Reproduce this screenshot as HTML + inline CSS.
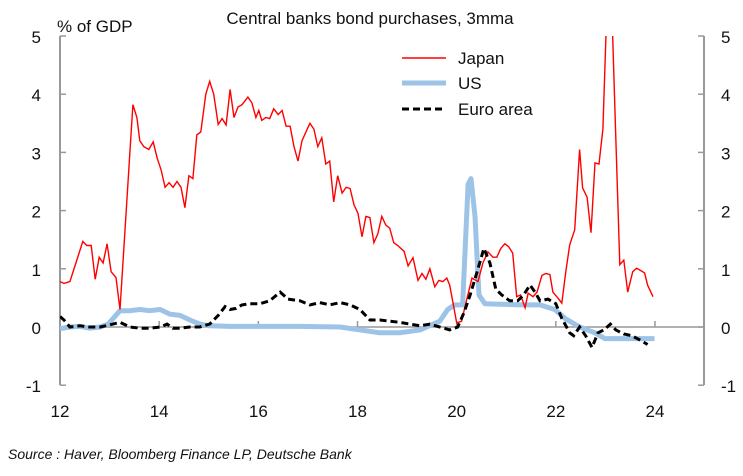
<!DOCTYPE html>
<html><head><meta charset="utf-8"><style>
body{margin:0;background:#fff;font-family:"Liberation Sans",Arial,sans-serif;}
svg text{font-family:"Liberation Sans",Arial,sans-serif;fill:#111;}
</style></head><body>
<svg id="chart" width="743" height="471" xmlns="http://www.w3.org/2000/svg">
<text x="370" y="24" font-size="17" text-anchor="middle">Central banks bond purchases, 3mma</text>
<text x="57" y="32" font-size="17">% of GDP</text>
<text x="8" y="459" font-size="14" font-style="italic" fill="#222">Source : Haver, Bloomberg Finance LP, Deutsche Bank</text>
<g id="axes"></g>
<defs><clipPath id="plotclip"><rect x="60" y="36" width="644" height="349"/></clipPath></defs>
<g id="series" clip-path="url(#plotclip)"></g>
<g>
<line x1="402" y1="58" x2="446" y2="58" stroke="#ff0000" stroke-width="1.5"/>
<text x="458" y="64" font-size="17">Japan</text>
<line x1="402" y1="83" x2="446" y2="83" stroke="#9dc3e6" stroke-width="5"/>
<text x="458" y="89" font-size="17">US</text>
<line x1="402" y1="109" x2="446" y2="109" stroke="#000" stroke-width="3" stroke-dasharray="7,4"/>
<text x="458" y="115" font-size="17">Euro area</text>
</g>
</svg>
<script>
const yTicks=[5,4,3,2,1,0,-1];
const xTicks=[12,14,16,18,20,22,24];
const japanYears=[12.00,12.08,12.20,12.32,12.46,12.54,12.63,12.71,12.79,12.87,12.95,13.03,13.13,13.21,13.47,13.55,13.61,13.69,13.79,13.88,13.96,14.04,14.12,14.20,14.28,14.36,14.44,14.52,14.60,14.68,14.76,14.84,14.94,15.02,15.10,15.19,15.27,15.35,15.43,15.51,15.59,15.67,15.79,15.87,15.95,16.01,16.07,16.15,16.23,16.31,16.40,16.48,16.56,16.64,16.72,16.80,16.88,16.96,17.04,17.12,17.20,17.28,17.36,17.44,17.52,17.60,17.69,17.77,17.85,17.93,18.01,18.09,18.17,18.25,18.33,18.41,18.49,18.57,18.65,18.73,18.81,18.94,19.02,19.12,19.22,19.30,19.38,19.46,19.56,19.64,19.72,19.80,19.86,19.94,20.00,20.10,20.21,20.31,20.43,20.53,20.63,20.73,20.81,20.89,20.97,21.05,21.13,21.21,21.29,21.38,21.44,21.54,21.62,21.72,21.80,21.88,21.94,22.04,22.12,22.20,22.28,22.38,22.48,22.54,22.63,22.71,22.79,22.87,22.95,23.03,23.11,23.19,23.29,23.37,23.45,23.55,23.63,23.71,23.79,23.85,23.96];
const japanVals=[0.78,0.75,0.78,1.1,1.47,1.4,1.4,0.82,1.2,1.1,1.43,0.95,0.85,0.3,3.82,3.6,3.2,3.1,3.05,3.18,2.9,2.7,2.4,2.48,2.4,2.5,2.4,2.05,2.6,2.55,3.3,3.35,4.0,4.22,4.0,3.48,3.58,3.47,4.08,3.6,3.78,3.82,3.95,3.85,3.6,3.72,3.55,3.6,3.58,3.75,3.65,3.72,3.45,3.45,3.1,2.85,3.2,3.35,3.5,3.4,3.1,3.25,2.8,2.85,2.15,2.6,2.3,2.4,2.38,2.1,1.95,1.55,1.9,1.88,1.45,1.6,1.9,1.75,1.7,1.45,1.4,1.3,1.05,1.19,0.8,0.92,0.82,1.0,0.69,0.8,0.78,0.84,0.72,0.35,0.07,0.1,0.5,0.84,0.78,1.1,1.29,1.2,1.2,1.35,1.43,1.38,1.27,0.52,0.55,0.33,0.58,0.52,0.6,0.89,0.92,0.9,0.6,0.5,0.41,0.95,1.41,1.67,3.05,2.39,2.23,1.62,2.82,2.8,3.4,5.5,6.0,3.8,1.07,1.15,0.6,0.95,1.01,0.97,0.93,0.72,0.52];
const usYears=[12.00,12.20,12.40,12.60,12.81,12.97,13.21,13.41,13.61,13.81,14.02,14.22,14.42,14.62,14.82,15.02,15.43,16.84,17.65,18.05,18.45,18.85,19.26,19.66,19.82,19.96,20.12,20.23,20.29,20.37,20.45,20.57,21.27,21.68,21.98,22.18,22.48,22.79,22.99,23.29,23.69,23.99];
const usVals=[-0.03,0,0.01,-0.02,0,0.05,0.28,0.28,0.3,0.28,0.3,0.22,0.2,0.12,0.05,0.02,0.01,0.01,0,-0.05,-0.1,-0.1,-0.05,0.1,0.3,0.38,0.38,2.45,2.55,1.9,0.55,0.4,0.38,0.38,0.3,0.15,0,-0.1,-0.2,-0.2,-0.2,-0.2];
const euroYears=[12.00,12.08,12.20,12.40,12.60,12.81,12.97,13.21,13.41,13.61,13.81,14.02,14.16,14.28,14.42,14.62,14.82,15.02,15.19,15.33,15.43,15.55,15.67,15.83,16.03,16.23,16.44,16.60,16.84,17.04,17.24,17.44,17.65,17.85,18.05,18.25,18.45,18.65,18.85,19.06,19.26,19.46,19.66,19.86,20.02,20.15,20.27,20.43,20.55,20.67,20.79,20.91,21.07,21.23,21.35,21.48,21.58,21.68,21.84,22.00,22.12,22.28,22.36,22.48,22.60,22.73,22.85,22.97,23.10,23.21,23.37,23.53,23.69,23.85];
const euroVals=[0.18,0.12,0,0.02,0,0,0.03,0.08,0,-0.02,-0.02,0,0.05,-0.02,-0.02,0,0,0.05,0.2,0.35,0.3,0.32,0.38,0.4,0.4,0.45,0.6,0.48,0.45,0.38,0.42,0.38,0.42,0.38,0.3,0.12,0.12,0.1,0.08,0.05,0.02,0.05,0,-0.05,0,0.25,0.55,1.0,1.35,1.1,0.65,0.55,0.45,0.45,0.55,0.72,0.6,0.45,0.48,0.4,0.15,-0.1,-0.15,0,-0.15,-0.35,-0.1,-0.05,0.05,-0.05,-0.12,-0.15,-0.22,-0.3];

const NS='http://www.w3.org/2000/svg';
const X0=60,X1=655,Y0=327,YU=58.2;
function xs(v){return X0+(v-12)*(X1-X0)/12;}
function ys(v){return Y0-v*YU;}
function mk(tag,attrs,parent){const e=document.createElementNS(NS,tag);for(const k in attrs)e.setAttribute(k,attrs[k]);parent.appendChild(e);return e;}
const axes=document.getElementById('axes');
const ser=document.getElementById('series');
let e;
e=mk('line',{x1:60,y1:36,x2:60,y2:385,stroke:'#999','stroke-width':2},axes);


e=mk('line',{x1:704,y1:36,x2:704,y2:385,stroke:'#999','stroke-width':2},axes);


e=mk('line',{x1:60,y1:ys(0),x2:704,y2:ys(0),stroke:'#999','stroke-width':1.5},axes);


yTicks.forEach(t=>{
  const y=ys(t);
  mk('line',{x1:60,y1:y,x2:66,y2:y,stroke:'#999','stroke-width':1.5},axes);
  mk('line',{x1:698,y1:y,x2:704,y2:y,stroke:'#999','stroke-width':1.5},axes);
  e=mk('text',{x:41,y:y+7,'font-size':17,'text-anchor':'end'},axes);e.textContent=t;
  
  
  e=mk('text',{x:721,y:y+7,'font-size':17,'text-anchor':'start'},axes);e.textContent=t;
  
  
});
xTicks.forEach(t=>{
  const x=xs(t);
  mk('line',{x1:x,y1:ys(0),x2:x,y2:ys(0)-6,stroke:'#999','stroke-width':1.5},axes);
  e=mk('text',{x:x,y:417,'font-size':17,'text-anchor':'middle'},axes);e.textContent=t;
  
  
});
function path(xsArr,vals){return xsArr.map((v,i)=>(i?'L':'M')+xs(v).toFixed(1)+','+ys(vals[i]).toFixed(1)).join(' ');}
e=mk('path',{d:path(usYears,usVals),fill:'none',stroke:'#9dc3e6','stroke-width':5,'stroke-linejoin':'round'},ser);


e=mk('path',{d:path(japanYears,japanVals),fill:'none',stroke:'#ff0000','stroke-width':1.4},ser);


e=mk('path',{d:path(euroYears,euroVals),fill:'none',stroke:'#000','stroke-width':3,'stroke-dasharray':'7,4'},ser);


</script>
</body></html>
